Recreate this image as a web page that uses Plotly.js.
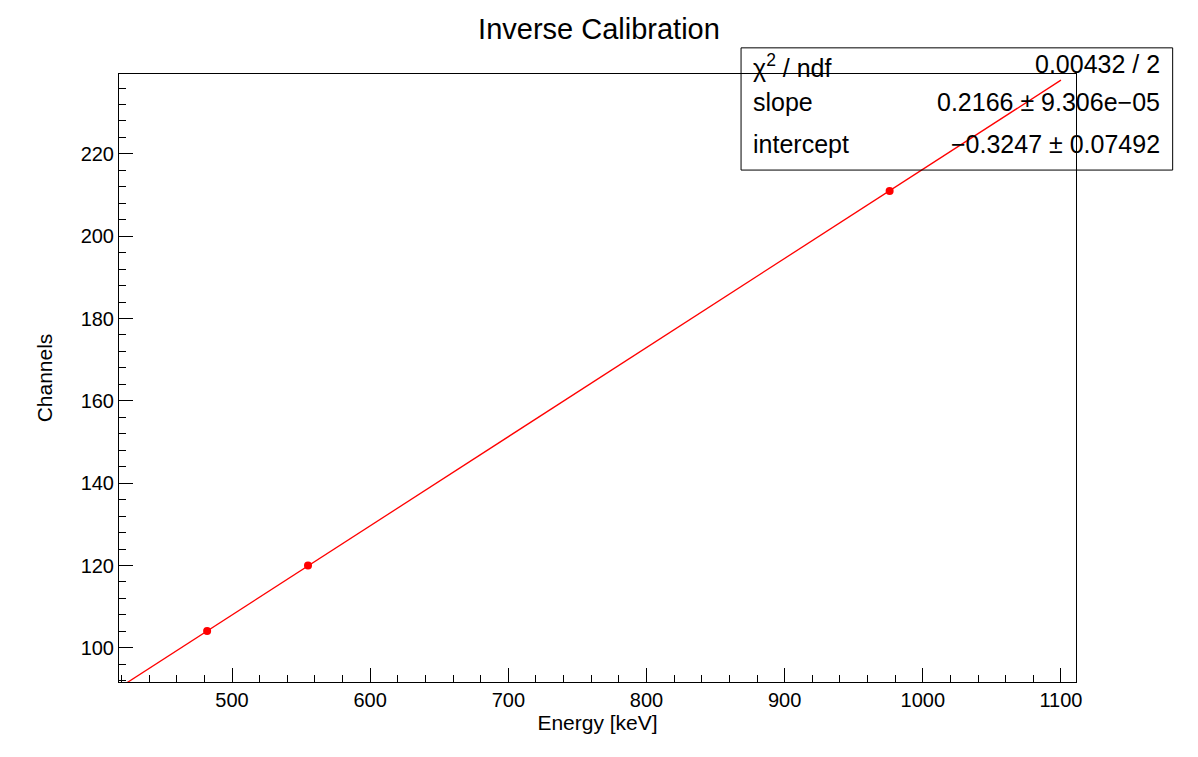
<!DOCTYPE html>
<html>
<head>
<script src="https://cdn.plot.ly/plotly-3.0.1.min.js"></script>
<style>body{margin:0;background:#fff}</style>
</head>
<body>
<div id="myDiv" style="width:1198px;height:757px"></div>
<script>
var energy = [482, 555, 976];
var channels = [104.1, 120.0, 211.0];
var fitX = [422, 1100];
var fitY = [91.1, 237.9];
var statLabels = ['χ<sup>2</sup> / ndf', 'slope', 'intercept'];
var statValues = ['0.00432 / 2', '0.2166 ± 9.306e−05', '−0.3247 ± 0.07492'];

var fit = {
  x: fitX, y: fitY, mode: 'lines', type: 'scatter',
  line: {color: '#ff0000', width: 1.3}, hoverinfo: 'skip'
};
var pts = {
  x: energy, y: channels, mode: 'markers', type: 'scatter',
  marker: {color: '#ff0000', size: 8}
};

var annotations = [];
var rowY = [1.043, 0.98, 0.912];
for (var i = 0; i < statLabels.length; i++) {
  annotations.push({xref: 'paper', yref: 'paper', x: 0.66, y: rowY[i], xanchor: 'left', yanchor: 'top',
    text: statLabels[i], showarrow: false, font: {size: 25, color: '#000'}});
  annotations.push({xref: 'paper', yref: 'paper', x: 1.09, y: rowY[i], xanchor: 'right', yanchor: 'top',
    text: statValues[i], showarrow: false, font: {size: 25, color: '#000'}});
}

var axisBase = {
  showgrid: false, zeroline: false, showline: true, linecolor: '#000', linewidth: 1,
  mirror: true, ticks: 'inside', ticklen: 14, tickcolor: '#000',
  tickfont: {size: 20, color: '#000'}
};

var layout = {
  width: 1198, height: 757,
  margin: {l: 119, r: 122, t: 74, b: 75},
  paper_bgcolor: '#fff', plot_bgcolor: '#fff',
  font: {family: 'Liberation Sans, Arial, sans-serif', color: '#000'},
  showlegend: false,
  title: {text: 'Inverse Calibration', x: 0.5, xanchor: 'center', y: 0.975, font: {size: 29}},
  xaxis: Object.assign({}, axisBase, {
    range: [418.2, 1110.9], dtick: 100, tick0: 0,
    minor: {ticks: 'inside', ticklen: 7, tickcolor: '#000', dtick: 20},
    title: {text: 'Energy [keV]', font: {size: 21}, standoff: 2}
  }),
  yaxis: Object.assign({}, axisBase, {
    range: [91.7, 239.4], dtick: 20, tick0: 0,
    minor: {ticks: 'inside', ticklen: 7, tickcolor: '#000', dtick: 4},
    title: {text: 'Channels', font: {size: 21}, standoff: 22}
  }),
  shapes: [{type: 'rect', xref: 'paper', yref: 'paper', x0: 0.65, x1: 1.101, y0: 0.842, y1: 1.043,
    line: {color: '#000', width: 1}, fillcolor: 'rgba(0,0,0,0)', layer: 'above'}],
  annotations: annotations
};

Plotly.newPlot('myDiv', [fit, pts], layout, {displayModeBar: false});
</script>
</body>
</html>
